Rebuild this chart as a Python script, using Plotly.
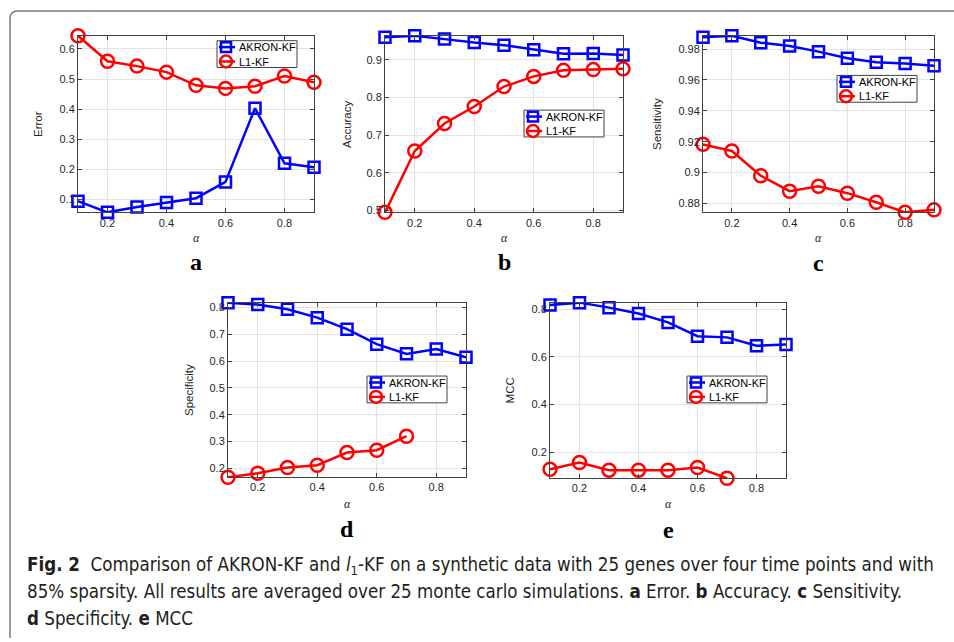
import plotly.graph_objects as go

# ---------------- data ----------------
alpha = [0.1, 0.2, 0.3, 0.4, 0.5, 0.6, 0.7, 0.8, 0.9]
alpha_l1_short = [0.1, 0.2, 0.3, 0.4, 0.5, 0.6, 0.7]

err_akron = [0.094, 0.057, 0.075, 0.090, 0.104, 0.158, 0.403, 0.220, 0.207]
err_l1 = [0.644, 0.559, 0.543, 0.523, 0.479, 0.469, 0.476, 0.510, 0.489]

acc_akron = [0.960, 0.964, 0.955, 0.946, 0.939, 0.927, 0.916, 0.917, 0.913]
acc_l1 = [0.495, 0.658, 0.731, 0.776, 0.829, 0.856, 0.872, 0.874, 0.876]

sen_akron = [0.9876, 0.9886, 0.9841, 0.9819, 0.9783, 0.9740, 0.9714, 0.9707, 0.9692]
sen_l1 = [0.9183, 0.9140, 0.8980, 0.8880, 0.8912, 0.8867, 0.8808, 0.8743, 0.8759]

spe_akron = [0.818, 0.811, 0.793, 0.762, 0.719, 0.663, 0.627, 0.645, 0.614]
spe_l1 = [0.167, 0.182, 0.203, 0.212, 0.259, 0.268, 0.320]

mcc_akron = [0.818, 0.828, 0.807, 0.782, 0.745, 0.687, 0.682, 0.647, 0.652]
mcc_l1 = [0.128, 0.156, 0.124, 0.124, 0.124, 0.135, 0.090]

series_names = ["AKRON-KF", "L1-KF"]

x_tickvals = [0.2, 0.4, 0.6, 0.8]
x_ticktext = ["0.2", "0.4", "0.6", "0.8"]

err_tickvals = [0.1, 0.2, 0.3, 0.4, 0.5, 0.6]
err_ticktext = ["0.1", "0.2", "0.3", "0.4", "0.5", "0.6"]
acc_tickvals = [0.5, 0.6, 0.7, 0.8, 0.9]
acc_ticktext = ["0.5", "0.6", "0.7", "0.8", "0.9"]
sen_tickvals = [0.88, 0.90, 0.92, 0.94, 0.96, 0.98]
sen_ticktext = ["0.88", "0.9", "0.92", "0.94", "0.96", "0.98"]
spe_tickvals = [0.2, 0.3, 0.4, 0.5, 0.6, 0.7, 0.8]
spe_ticktext = ["0.2", "0.3", "0.4", "0.5", "0.6", "0.7", "0.8"]
mcc_tickvals = [0.2, 0.4, 0.6, 0.8]
mcc_ticktext = ["0.2", "0.4", "0.6", "0.8"]

caption_lines = [
    "<b>Fig. 2</b>  Comparison of AKRON-KF and <i>l</i><sub>1</sub>-KF on a synthetic data with 25 genes over four time points and with",
    "85% sparsity. All results are averaged over 25 monte carlo simulations. <b>a</b> Error. <b>b</b> Accuracy. <b>c</b> Sensitivity.",
    "<b>d</b> Specificity. <b>e</b> MCC",
]

# ---------------- layout (pixels) ----------------
W, H = 954, 642
BLUE, RED = "#0000ff", "#ff0000"
AX_COL = "#404040"
TXT_COL = "#262626"

panels = [
    dict(letter="a", ytitle="Error", ya=err_akron, yl=err_l1, xl=alpha,
         tv=err_tickvals, tt=err_ticktext, box=(78, 314, 35, 213), leg=(217, 40),
         ytx=38, xty=239, lety=263),
    dict(letter="b", ytitle="Accuracy", ya=acc_akron, yl=acc_l1, xl=alpha,
         tv=acc_tickvals, tt=acc_ticktext, box=(385, 623, 35, 213), leg=(524, 110),
         ytx=347, xty=239, lety=263),
    dict(letter="c", ytitle="Sensitivity", ya=sen_akron, yl=sen_l1, xl=alpha,
         tv=sen_tickvals, tt=sen_ticktext, box=(703, 934, 35, 213), leg=(837, 75),
         ytx=657, xty=239, lety=264),
    dict(letter="d", ytitle="Specificity", ya=spe_akron, yl=spe_l1, xl=alpha_l1_short,
         tv=spe_tickvals, tt=spe_ticktext, box=(228, 466, 304, 480), leg=(367, 378),
         ytx=189, xty=507, lety=532),
    dict(letter="e", ytitle="MCC", ya=mcc_akron, yl=mcc_l1, xl=alpha_l1_short,
         tv=mcc_tickvals, tt=mcc_ticktext, box=(550, 786, 304, 481), leg=(687, 378),
         ytx=510, xty=507, lety=533),
]


def fx(p):
    return p / W


def fy(p):
    return 1 - p / H


fig = go.Figure()
annotations = []
shapes = []

for i, p in enumerate(panels):
    n = "" if i == 0 else str(i + 1)
    xa, ya_name = "x" + n, "y" + n
    x0, x1, y0, y1 = p["box"]
    fig.add_trace(go.Scatter(
        x=alpha, y=p["ya"], mode="lines+markers", name=series_names[0],
        xaxis=xa, yaxis=ya_name, cliponaxis=False, showlegend=False,
        line=dict(color=BLUE, width=2.5),
        marker=dict(symbol="square-open", size=11, color=BLUE, line=dict(color=BLUE, width=2.5)),
    ))
    fig.add_trace(go.Scatter(
        x=p["xl"], y=p["yl"], mode="lines+markers", name=series_names[1],
        xaxis=xa, yaxis=ya_name, cliponaxis=False, showlegend=False,
        line=dict(color=RED, width=2.5),
        marker=dict(symbol="circle-open", size=13, color=RED, line=dict(color=RED, width=2.5)),
    ))
    allv = p["ya"] + p["yl"]
    axcommon = dict(showline=True, linecolor=AX_COL, linewidth=1, mirror="ticks",
                    ticks="inside", ticklen=4, tickcolor=AX_COL, tickwidth=1,
                    showgrid=True, gridcolor="#e3e3e3", gridwidth=1, zeroline=False,
                    tickfont=dict(family="Liberation Sans, Arial, sans-serif", size=11, color=TXT_COL))
    fig.layout["xaxis" + n] = dict(
        domain=[fx(x0), fx(x1)], anchor=ya_name, range=[min(alpha), max(alpha)],
        tickmode="array", tickvals=x_tickvals, ticktext=x_ticktext, **axcommon)
    fig.layout["yaxis" + n] = dict(
        domain=[fy(y1), fy(y0)], anchor=xa, range=[min(allv), max(allv)],
        tickmode="array", tickvals=p["tv"], ticktext=p["tt"], **axcommon)

    cx = (x0 + x1) / 2
    cy = (y0 + y1) / 2
    # y title
    annotations.append(dict(text=p["ytitle"], x=fx(p["ytx"]), y=fy(cy), xref="paper", yref="paper",
                            textangle=-90, showarrow=False, xanchor="center", yanchor="middle",
                            font=dict(family="Liberation Sans, Arial, sans-serif", size=11.5, color=TXT_COL)))
    # x title (alpha)
    annotations.append(dict(text="<i>α</i>", x=fx(cx), y=fy(p["xty"]), xref="paper", yref="paper",
                            showarrow=False, xanchor="center", yanchor="middle",
                            font=dict(family="Liberation Serif, Times New Roman, serif", size=12, color=TXT_COL)))
    # panel letter
    annotations.append(dict(text="<b>%s</b>" % p["letter"], x=fx(cx), y=fy(p["lety"]), xref="paper", yref="paper",
                            showarrow=False, xanchor="center", yanchor="middle",
                            font=dict(family="Liberation Serif, Times New Roman, serif", size=24, color="#000000")))
    # legend box
    lx, ly = p["leg"]
    lw, lh = 80, 27
    shapes.append(dict(type="rect", xref="paper", yref="paper", x0=fx(lx), x1=fx(lx + lw),
                       y0=fy(ly + lh), y1=fy(ly), line=dict(color=AX_COL, width=1), fillcolor="white"))
    for k, (col, sym) in enumerate([(BLUE, "sq"), (RED, "ci")]):
        ry = ly + 6.5 + k * 14.5
        shapes.append(dict(type="line", xref="paper", yref="paper", x0=fx(lx + 2), x1=fx(lx + 18),
                           y0=fy(ry), y1=fy(ry), line=dict(color=col, width=2.5)))
        mx = lx + 9
        if sym == "sq":
            s = 5
            shapes.append(dict(type="rect", xref="paper", yref="paper", x0=fx(mx - s), x1=fx(mx + s),
                               y0=fy(ry + s), y1=fy(ry - s), line=dict(color=col, width=2.5)))
        else:
            s = 6
            shapes.append(dict(type="circle", xref="paper", yref="paper", x0=fx(mx - s), x1=fx(mx + s),
                               y0=fy(ry + s), y1=fy(ry - s), line=dict(color=col, width=2.5)))
        annotations.append(dict(text=series_names[k], x=fx(lx + 20), y=fy(ry), xref="paper", yref="paper",
                                showarrow=False, xanchor="left", yanchor="middle",
                                font=dict(family="Liberation Sans, Arial, sans-serif", size=11, color="#000000")))

# caption
for k, line in enumerate(caption_lines):
    annotations.append(dict(text=line, x=fx(25), y=fy(569 + k * 26.5), xref="paper", yref="paper",
                            showarrow=False, xanchor="left", yanchor="middle", align="left",
                            font=dict(family="DejaVu Sans Condensed, sans-serif",
                                      size=18.6, color="#231f20")))

# outer frame (top-left rounded corner)
r = 8
path = "M %f,%f L %f,%f Q %f,%f %f,%f L %f,%f" % (
    fx(10), fy(H), fx(10), fy(10 + r), fx(10), fy(10), fx(10 + r), fy(10), fx(W), fy(10))
shapes.append(dict(type="path", xref="paper", yref="paper", path=path,
                   line=dict(color="#7a7a7a", width=1.5)))

fig.update_layout(
    width=W, height=H, margin=dict(l=0, r=0, t=0, b=0),
    paper_bgcolor="white", plot_bgcolor="white",
    annotations=annotations, shapes=shapes, showlegend=False,
)

fig.write_html("out.html", config={"displayModeBar": False},
               post_script="document.body.style.margin='0';")
